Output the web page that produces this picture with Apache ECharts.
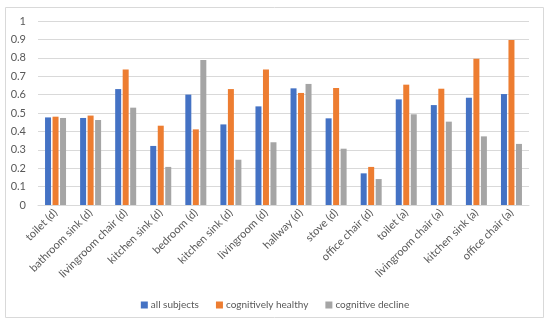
<!DOCTYPE html>
<html><head><meta charset="utf-8">
<script src="https://cdn.jsdelivr.net/npm/echarts@6/dist/echarts.min.js"></script>
<style>html,body{margin:0;padding:0;background:#fff}#c{width:550px;height:328px}</style>
</head><body><div id="c"></div>
<script>
const categories = ["toilet (d)","bathroom sink (d)","livingroom chair (d)","kitchen sink (d)","bedroom (d)","kitchen sink (d)","livingroom (d)","hallway (d)","stove (d)","office chair (d)","toilet (a)","livingroom chair (a)","kitchen sink (a)","office chair (a)"];
const allSubjects = [0.476,0.473,0.630,0.321,0.600,0.438,0.536,0.634,0.471,0.172,0.574,0.543,0.583,0.603];
const cognitivelyHealthy = [0.480,0.486,0.736,0.431,0.411,0.630,0.736,0.609,0.636,0.207,0.654,0.632,0.795,0.897];
const cognitiveDecline = [0.473,0.462,0.529,0.207,0.788,0.246,0.341,0.658,0.306,0.141,0.493,0.453,0.373,0.332];
const yTicks = [0,0.1,0.2,0.3,0.4,0.5,0.6,0.7,0.8,0.9,1];

const font = 'Lato, "Open Sans", sans-serif';
const chart = echarts.init(document.getElementById('c'), null, {renderer:'canvas'});
const mk = (name, data, color) => ({name, type:'bar', data, barWidth:6, barGap:'25%', itemStyle:{color}});
chart.setOption({
  animation:false,
  textStyle:{fontFamily:font},
  graphic:[{type:'rect', shape:{x:5.5,y:7.5,width:538,height:310}, style:{fill:'none', stroke:'#d9d9d9', lineWidth:1}, silent:true}],
  grid:{left:38, right:21, top:21, bottom:123},
  legend:{bottom:13, left:'center', icon:'rect', itemWidth:7, itemHeight:7, itemGap:17,
    textStyle:{fontSize:10, color:'#595959', fontFamily:font, padding:[0,0,0,-2]}},
  xAxis:{type:'category', data:categories,
    axisLine:{lineStyle:{color:'#d9d9d9'}}, axisTick:{show:false},
    axisLabel:{rotate:45, interval:0, fontSize:11, color:'#595959', margin:6, fontFamily:font}},
  yAxis:{type:'value', min:0, max:1, interval:0.1,
    axisLine:{show:false}, axisTick:{show:false},
    splitLine:{lineStyle:{color:'#d9d9d9'}},
    axisLabel:{fontSize:11, color:'#595959', margin:12, fontFamily:font,
      formatter:v=>{const t=yTicks.find(x=>Math.abs(x-v)<1e-6); return String(t!==undefined?t:v);}}},
  series:[mk('all subjects', allSubjects, '#4472C4'), mk('cognitively healthy', cognitivelyHealthy, '#ED7D31'), mk('cognitive decline', cognitiveDecline, '#A5A5A5')]
});
</script></body></html>
